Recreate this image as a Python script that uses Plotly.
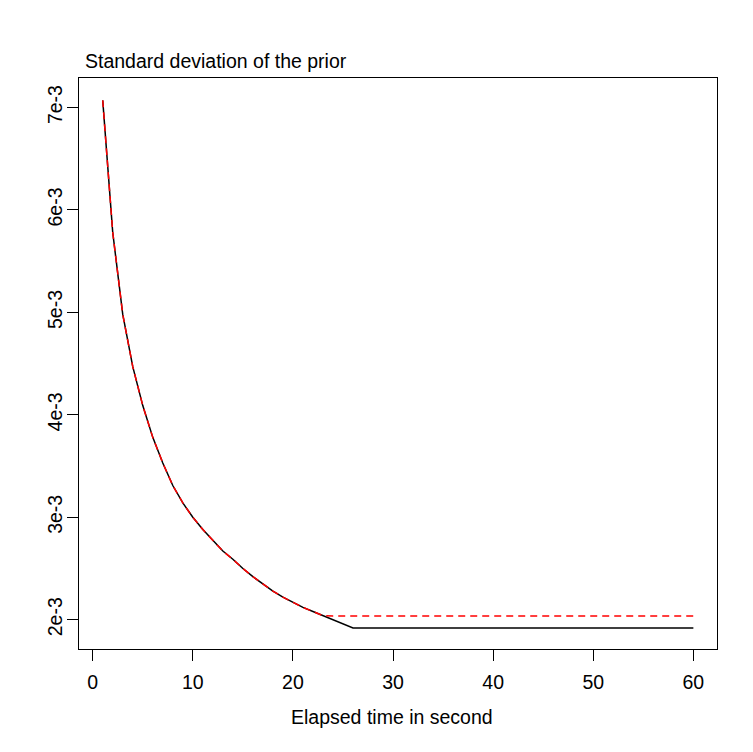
import plotly.graph_objects as go

t_black = list(range(1, 61))
sd_curve = [7.07, 5.78, 4.98, 4.47, 4.09, 3.78, 3.53, 3.31, 3.14, 3.00,
            2.88, 2.77, 2.67, 2.59, 2.50, 2.42, 2.35, 2.28, 2.22, 2.17,
            2.12, 2.08, 2.04, 2.00, 1.96, 1.92]
floor_black = 1.92
floor_red = 2.036
sd_black = [v * 1e-3 for v in sd_curve] + [floor_black * 1e-3] * (60 - len(sd_curve))
sd_red = [max(v, floor_red) * 1e-3 for v in sd_curve] + [floor_red * 1e-3] * (60 - len(sd_curve))

x_ticks = [0, 10, 20, 30, 40, 50, 60]
y_tickvals = [2e-3, 3e-3, 4e-3, 5e-3, 6e-3, 7e-3]
y_ticktext = ["2e-3", "3e-3", "4e-3", "5e-3", "6e-3", "7e-3"]

FONT = "Liberation Sans, Arial, Helvetica, sans-serif"

fig = go.Figure()
fig.add_trace(go.Scatter(x=t_black, y=sd_black, mode="lines",
                         line=dict(color="black", width=1.5), showlegend=False))
fig.add_trace(go.Scatter(x=t_black, y=sd_red, mode="lines",
                         line=dict(color="#FF0000", width=1.5, dash="7px,5px"), showlegend=False))

fig.update_layout(
    width=737, height=736,
    margin=dict(l=71, r=28, t=70, b=95, autoexpand=False),
    paper_bgcolor="white", plot_bgcolor="white",
    font=dict(family=FONT, size=20, color="black"),
    xaxis=dict(range=[-1.37, 62.36], tickvals=x_ticks, ticks="outside", ticklen=11,
               tickcolor="black", tickwidth=1.2, showline=True, linecolor="black", linewidth=1.2,
               mirror=True, showgrid=False, zeroline=False, tickfont=dict(size=19.5),
               ticklabelstandoff=4, automargin=False),
    yaxis=dict(range=[1.714e-3, 7.288e-3], tickvals=y_tickvals, ticktext=y_ticktext,
               ticks="outside", ticklen=11, tickangle=-90,
               tickcolor="black", tickwidth=1.2, showline=True, linecolor="black", linewidth=1.2,
               mirror=True, showgrid=False, zeroline=False, tickfont=dict(size=19.5),
               ticklabelstandoff=-3, automargin=False),
    annotations=[
        dict(text="Standard deviation of the prior", xref="paper", yref="paper",
             x=0, y=1, xshift=4, yshift=4, xanchor="left", yanchor="bottom",
             showarrow=False, font=dict(size=19.5)),
        dict(text="Elapsed time in second", xref="paper", yref="paper",
             x=0.5, y=0, xshift=-6, yshift=-55, xanchor="center", yanchor="top",
             showarrow=False, font=dict(size=19.5)),
    ],
)

fig.write_html("out.html")
